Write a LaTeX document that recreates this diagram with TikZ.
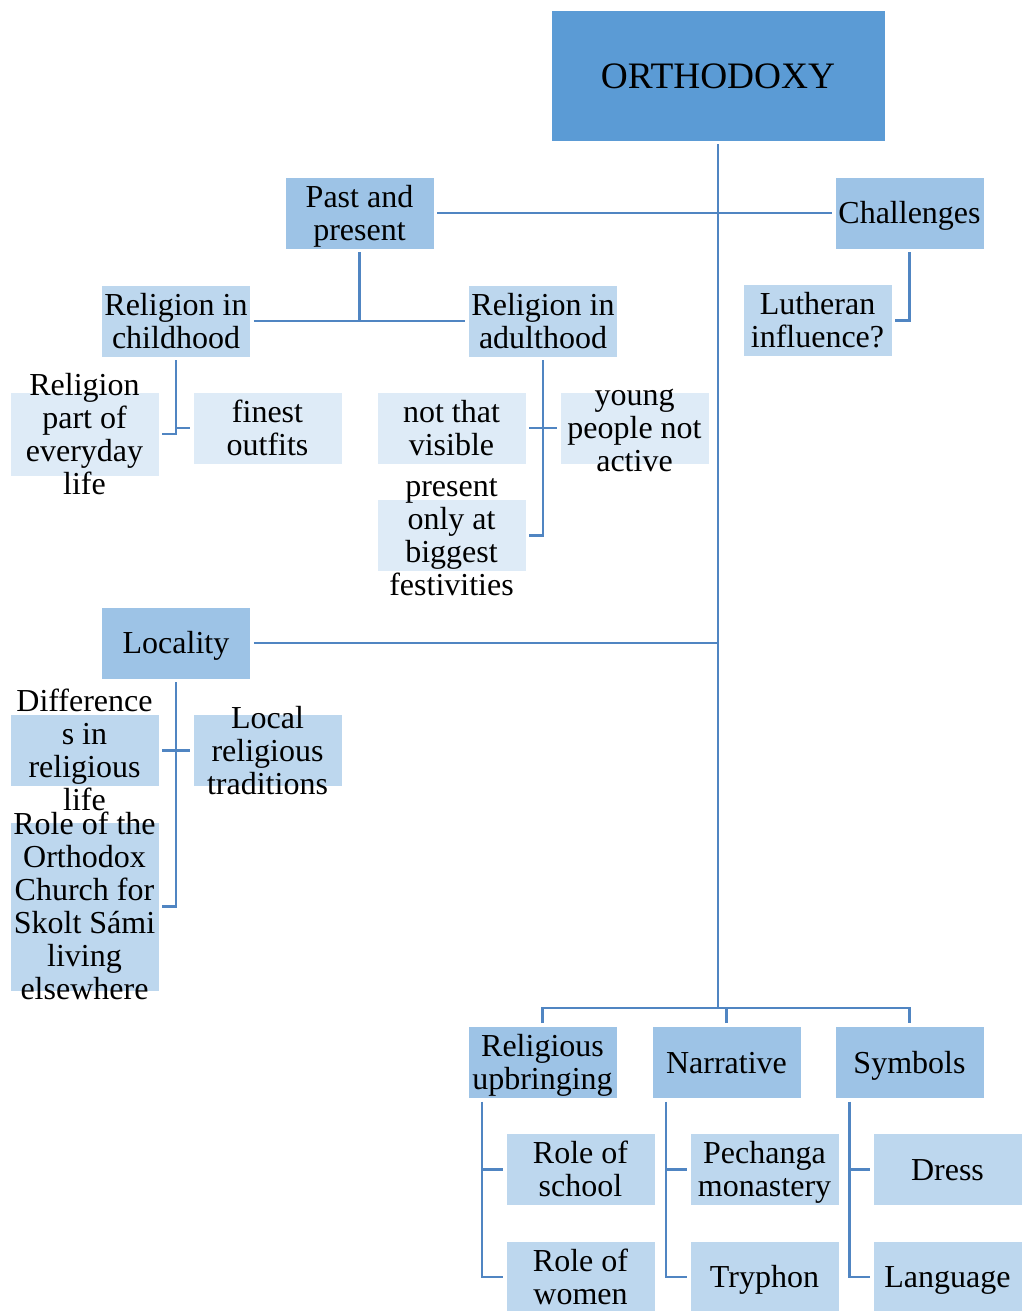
\documentclass[tikz,border=0pt]{standalone}
\usepackage{fontspec}
\setmainfont{Liberation Serif}
\usepackage{tikz}
\usepackage{xcolor}
\definecolor{topblue}{HTML}{5B9BD5}
\definecolor{midblue}{HTML}{9DC3E6}
\definecolor{lightblue}{HTML}{BDD7EE}
\definecolor{paleblue}{HTML}{DEEBF7}
\definecolor{linkblue}{RGB}{80,133,194}
% first line as tall as the font's ascender
\newcommand{\wordstrut}{\rule{0pt}{0.891em}}

\begin{document}
\begin{tikzpicture}[x=0.75pt, y=-0.75pt,
		lines/.style={align=center, font=\fontsize{24}{24.75}\selectfont,
			execute at end node={\rule[-0.216em]{0pt}{0.216em}}},
		box/.style={rectangle, draw=white, line width=0.6pt, minimum width=111.75pt, minimum height=54pt,
			inner sep=0pt, outer sep=2.5pt, lines},
		lvl1/.style={box, fill=topblue, minimum width=250.5pt, minimum height=98.25pt, font=\fontsize{28}{30}\selectfont},
		lvl2/.style={box, fill=midblue},
		lvl3/.style={box, fill=lightblue},
		lvl4/.style={box, fill=paleblue},
		txt/.style={inner sep=0pt, lines},
		conn/.style={draw=linkblue, line width=2pt}]
		\useasboundingbox (0,0) rectangle (1023,1311);

		% Top
		\node[lvl1] (orth) at (718,75.5) {\wordstrut ORTHODOXY};
		\node[lvl2] (past) at (359.5,213) {\wordstrut Past and\\present};
		\node[lvl2] (chal) at (909.5,213) {\wordstrut Challenges};
		\node[lvl3] (luth) at (817.5,320.5) {\wordstrut Lutheran\\influence?};

		% Past and present
		\node[lvl3] (child) at (176,321) {\wordstrut Religion in\\childhood};
		\node[lvl3] (adult) at (543,321) {\wordstrut Religion in\\adulthood};
		\node[lvl4, minimum height=63pt] (life) at (84.5,434) {};
		\node[txt] (life-t) at (life) {\wordstrut Religion\\part of\\everyday\\life};
		\node[lvl4] (outfit) at (267.5,428) {\wordstrut finest\\outfits};
		\node[lvl4] (visible) at (451.5,428) {\wordstrut not that\\visible};
		\node[lvl4] (young) at (634.5,428) {};
		\node[txt] (young-t) at (young) {\wordstrut young\\people not\\active};
		\node[lvl4] (fest) at (451.5,535.5) {};
		\node[txt] (fest-t) at (fest) {\wordstrut present\\only at\\biggest\\festivities};

		% Locality
		\node[lvl2] (loc) at (176,643) {\wordstrut Locality};
		\node[lvl3] (diff) at (84.5,750.5) {};
		\node[txt] (diff-t) at (diff) {\wordstrut Difference\\s in\\religious\\life};
		\node[lvl3] (trad) at (267.5,750.5) {};
		\node[txt] (trad-t) at (trad) {\wordstrut Local\\religious\\traditions};
		\node[lvl3, minimum height=126.75pt] (away) at (84.5,906.5) {};
		\node[txt] (away-t) at (away) {\wordstrut Role of the\\Orthodox\\Church for\\Skolt Sámi\\living\\elsewhere};

		% Bottom row
		\node[lvl2] (upbr) at (542.5,1062.5) {\wordstrut Religious\\upbringing};
		\node[lvl2] (narr) at (726.5,1062.5) {\wordstrut Narrative};
		\node[lvl2] (symb) at (909.5,1062.5) {\wordstrut Symbols};
		\node[lvl3] (school) at (580.5,1169.5) {\wordstrut Role of\\school};
		\node[lvl3] (women) at (580.5,1277) {\wordstrut Role of\\women};
		\node[lvl3] (pech) at (764.5,1169.5) {\wordstrut Pechanga\\monastery};
		\node[lvl3] (tryph) at (764.5,1277) {\wordstrut Tryphon};
		\node[lvl3] (dress) at (947.5,1169.5) {\wordstrut Dress};
		\node[lvl3] (lang) at (947.5,1277) {\wordstrut Language};

		% Connectors
		\coordinate (hub) at (718,1008);
		\draw[conn] (orth.south) -- (hub);
		\draw[conn] (past.east) -- (chal.west);
		\draw[conn] (loc.east) -- (loc.east -| orth.south);
		\draw[conn] (upbr.north) |- (hub) -| (symb.north);
		\draw[conn] (narr.north) -- (narr.north |- hub);

		\draw[conn] (chal.south) |- (luth.east);
		\draw[conn] (past.south) -- (past.south |- child.east);
		\draw[conn] (child.east) -- (adult.west);

		\draw[conn] (child.south) |- (life.east);
		\draw[conn] (child.south |- outfit.west) -- (outfit.west);
		\draw[conn] (adult.south) |- (fest.east);
		\draw[conn] (visible.east) -- (young.west);

		\draw[conn] (loc.south) |- (away.east);
		\draw[conn] (diff.east) -- (trad.west);

		\draw[conn] ([xshift=13pt]upbr.south west) |- (school.west);
		\draw[conn] ([xshift=13pt]upbr.south west) |- (women.west);
		\draw[conn] ([xshift=13pt]narr.south west) |- (pech.west);
		\draw[conn] ([xshift=13pt]narr.south west) |- (tryph.west);
		\draw[conn] ([xshift=13.5pt]symb.south west) |- (dress.west);
		\draw[conn] ([xshift=13.5pt]symb.south west) |- (lang.west);
	\end{tikzpicture}
\end{document}
